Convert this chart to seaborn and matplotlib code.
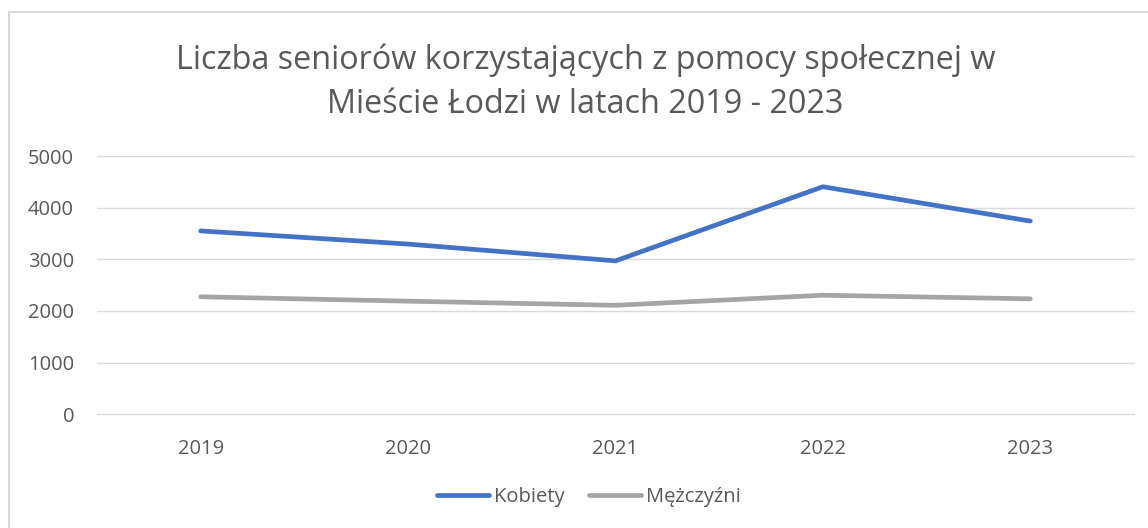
import pandas as pd
import seaborn as sns
import matplotlib.pyplot as plt
from matplotlib.patches import Rectangle

# values
years = ['2019', '2020', '2021', '2022', '2023']
kobiety = [3550, 3295, 2970, 4405, 3740]
mezczyzni = [2275, 2190, 2110, 2305, 2235]
series_names = ['Kobiety', 'Mężczyźni']
colours = ['#4472C4', '#A5A5A5']

df = pd.DataFrame({
    'rok': years * 2,
    'liczba': kobiety + mezczyzni,
    'plec': [series_names[0]] * len(years) + [series_names[1]] * len(years),
})

sns.set_style("white")
plt.rcParams['font.family'] = ['Open Sans', 'DejaVu Sans']

fig = plt.figure(figsize=(11.48, 5.28), dpi=100)
ax = fig.add_axes([97 / 1148, 1 - 414.3 / 528, (1134 - 97) / 1148, (414.3 - 156) / 528])

sns.lineplot(data=df, x='rok', y='liczba', hue='plec', palette=colours,
             linewidth=3.4, ax=ax, legend=False, sort=False)
for ln in ax.lines:
    ln.set_solid_capstyle('round')

ax.set_xlim(-0.5, len(years) - 0.5)
ax.set_ylim(0, 5000)
ax.set_yticks(range(0, 5001, 1000))
ax.set_xlabel('')
ax.set_ylabel('')
ax.grid(axis='y', color='#D9D9D9', linewidth=1.0)
for gl in ax.get_ygridlines():
    gl.set_clip_on(False)
sns.despine(ax=ax, left=True, bottom=True, top=True, right=True)
ax.tick_params(axis='both', length=0, labelsize=14.5, labelcolor='#595959')
ax.tick_params(axis='y', pad=16.5)
ax.tick_params(axis='x', pad=17.5)

# legend
handles = [plt.Line2D([], [], color=c, linewidth=3.4, solid_capstyle='round') for c in colours]
fig.legend(handles, series_names, loc='center', bbox_to_anchor=(0.513, 1 - 497 / 528),
           ncol=2, frameon=False, fontsize=14.5, labelcolor='#595959',
           handlelength=2.6, handletextpad=0.25, columnspacing=1.2)

fig.text(0.51, 1 - 82 / 528,
         'Liczba seniorów korzystających z pomocy społecznej w\nMieście Łodzi w latach 2019 - 2023',
         ha='center', va='center', fontsize=23.3, color='#595959', linespacing=1.45)

# chart border
fig.patches.append(Rectangle((8.5 / 1148, -0.1), 1.2, 1 - 12.5 / 528 + 0.1,
                             transform=fig.transFigure, fill=False,
                             edgecolor='#D9D9D9', linewidth=1.5))

fig.savefig('out.png', dpi=100)
